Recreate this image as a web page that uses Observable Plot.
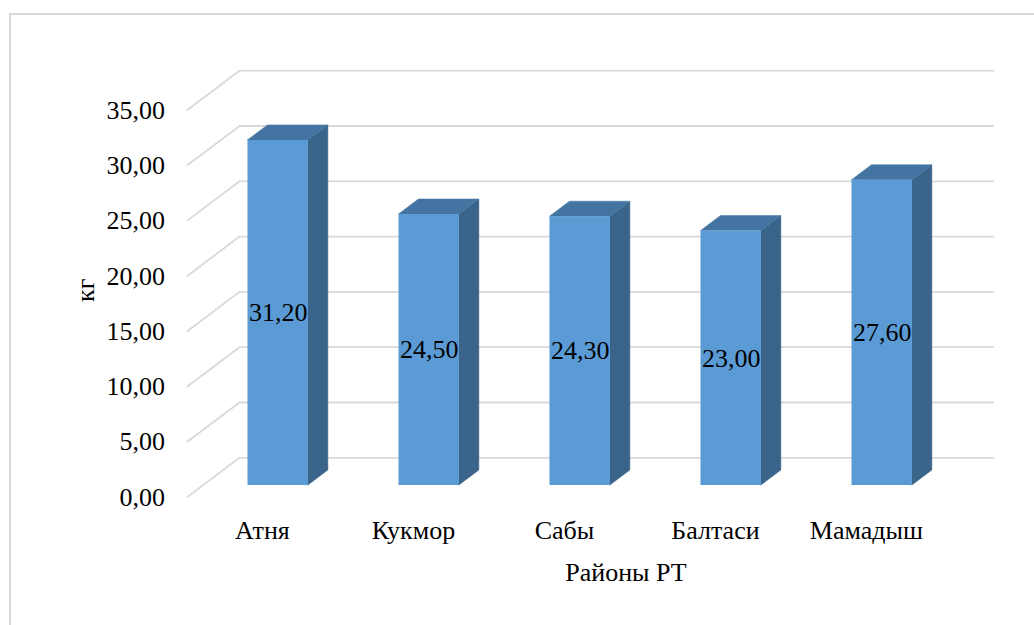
<!DOCTYPE html>
<html>
<head>
<meta charset="utf-8">
<script src="https://cdn.jsdelivr.net/npm/d3@7"></script>
<script src="https://cdn.jsdelivr.net/npm/@observablehq/plot@0.6"></script>
<style>
  html, body { margin: 0; padding: 0; background: #fff; overflow: hidden; }
  #wrap { position: relative; width: 1034px; height: 625px; overflow: hidden; }
  #border { position: absolute; left: 9px; top: 13px; width: 1100px; height: 700px;
            border-top: 2px solid #d9d9d9; border-left: 2px solid #d9d9d9; }
  #chart { position: absolute; left: 0; top: 0; }
  #chart svg text { font-family: "Liberation Serif", serif !important; }
</style>
</head>
<body>
<div id="wrap"><div id="border"></div><div id="chart"></div></div>
<script>
// ---- data ----
const categories = ["Атня", "Кукмор", "Сабы", "Балтаси", "Мамадыш"];
const values = [31.2, 24.5, 24.3, 23.0, 27.6];
const yTicks = [0, 5, 10, 15, 20, 25, 30, 35];
const xAxisTitle = "Районы РТ";
const yAxisTitle = "кг";

// ---- 3D projection constants (in scale units) ----
const DEPTH_X = 0.348;   // x-units of full floor depth
const DEPTH_Y = 3.58;    // y-units of full floor depth
const BAR_FRONT = 0.30;  // bar front plane position in depth
const BAR_BACK = 0.68;   // bar back plane position in depth
const HALF = 0.2;        // half bar width in x-units
const bx = (BAR_BACK - BAR_FRONT) * DEPTH_X;
const by = (BAR_BACK - BAR_FRONT) * DEPTH_Y;
const fx = -BAR_FRONT * DEPTH_X, fy = -BAR_FRONT * DEPTH_Y;      // front wall offset
const kx = (1 - BAR_FRONT) * DEPTH_X, ky = (1 - BAR_FRONT) * DEPTH_Y; // back wall offset

const fmt = v => v.toFixed(2).replace(".", ",");
const bars = categories.map((c, i) => ({c, i, v: values[i]}));
const topRows = bars.flatMap(d => [
  {c: d.c, x1: d.i - HALF, x2: d.i + HALF, y: d.v},
  {c: d.c, x1: d.i - HALF + bx, x2: d.i + HALF + bx, y: d.v + by}
]);
const sideRows = bars.flatMap(d => [
  {c: d.c, x: d.i + HALF, y1: 0, y2: d.v},
  {c: d.c, x: d.i + HALF + bx, y1: by, y2: d.v + by}
]);

const xMin = -0.5, xMax = categories.length - 0.5;
const grid = "#d9d9d9";
const FF = "Liberation Serif";

const chart = Plot.plot({
  width: 1034,
  height: 625,
  marginLeft: 202,
  marginRight: 77,
  marginTop: 98,
  marginBottom: 140,
  style: {fontFamily: "'Liberation Serif', serif", fontSize: "26px", background: "transparent"},
  x: {domain: [xMin, xMax], range: [202.2, 957.2], axis: null},
  y: {domain: [0, 35], range: [485, 97.9], axis: null},
  marks: [
    // back wall gridlines
    Plot.ruleY(yTicks, {y: d => d + ky, x1: xMin + kx, x2: xMax + kx, stroke: grid, strokeWidth: 1.8}),
    // side wall diagonals
    Plot.link(yTicks, {x1: xMin + fx, y1: d => d + fy, x2: xMin + kx, y2: d => d + ky, stroke: grid, strokeWidth: 1.8}),
    // y tick labels
    Plot.text(yTicks, {x: xMin + fx, y: d => d + fy, text: fmt, textAnchor: "end", dx: -22, fontSize: 26, fontFamily: FF}),
    // bar side faces
    Plot.areaY(sideRows, {x: "x", y1: "y1", y2: "y2", z: "c", fill: "#3a6489", stroke: "#3a6489", strokeWidth: 0.5}),
    // bar top faces
    Plot.areaX(topRows, {y: "y", x1: "x1", x2: "x2", z: "c", fill: "#4475a2", stroke: "#4475a2", strokeWidth: 0.5}),
    // bar fronts
    Plot.rect(bars, {x1: d => d.i - HALF, x2: d => d.i + HALF, y1: 0, y2: "v", fill: "#5b9bd5"}),
    // value labels
    Plot.text(bars, {x: "i", y: d => d.v / 2, text: d => fmt(d.v), fontSize: 26, fontFamily: FF}),
    // category labels
    Plot.text(bars, {x: d => d.i + fx, y: fy, text: "c", dy: 33, fontSize: 26, fontFamily: FF}),
    // axis titles
    Plot.text([xAxisTitle], {frameAnchor: "bottom", dx: 46, dy: 95, fontSize: 26, fontFamily: FF}),
    Plot.text([yAxisTitle], {frameAnchor: "left", rotate: -90, dx: -117, dy: 10, fontSize: 26, fontFamily: FF})
  ]
});
document.getElementById("chart").appendChild(chart);
</script>
</body>
</html>
